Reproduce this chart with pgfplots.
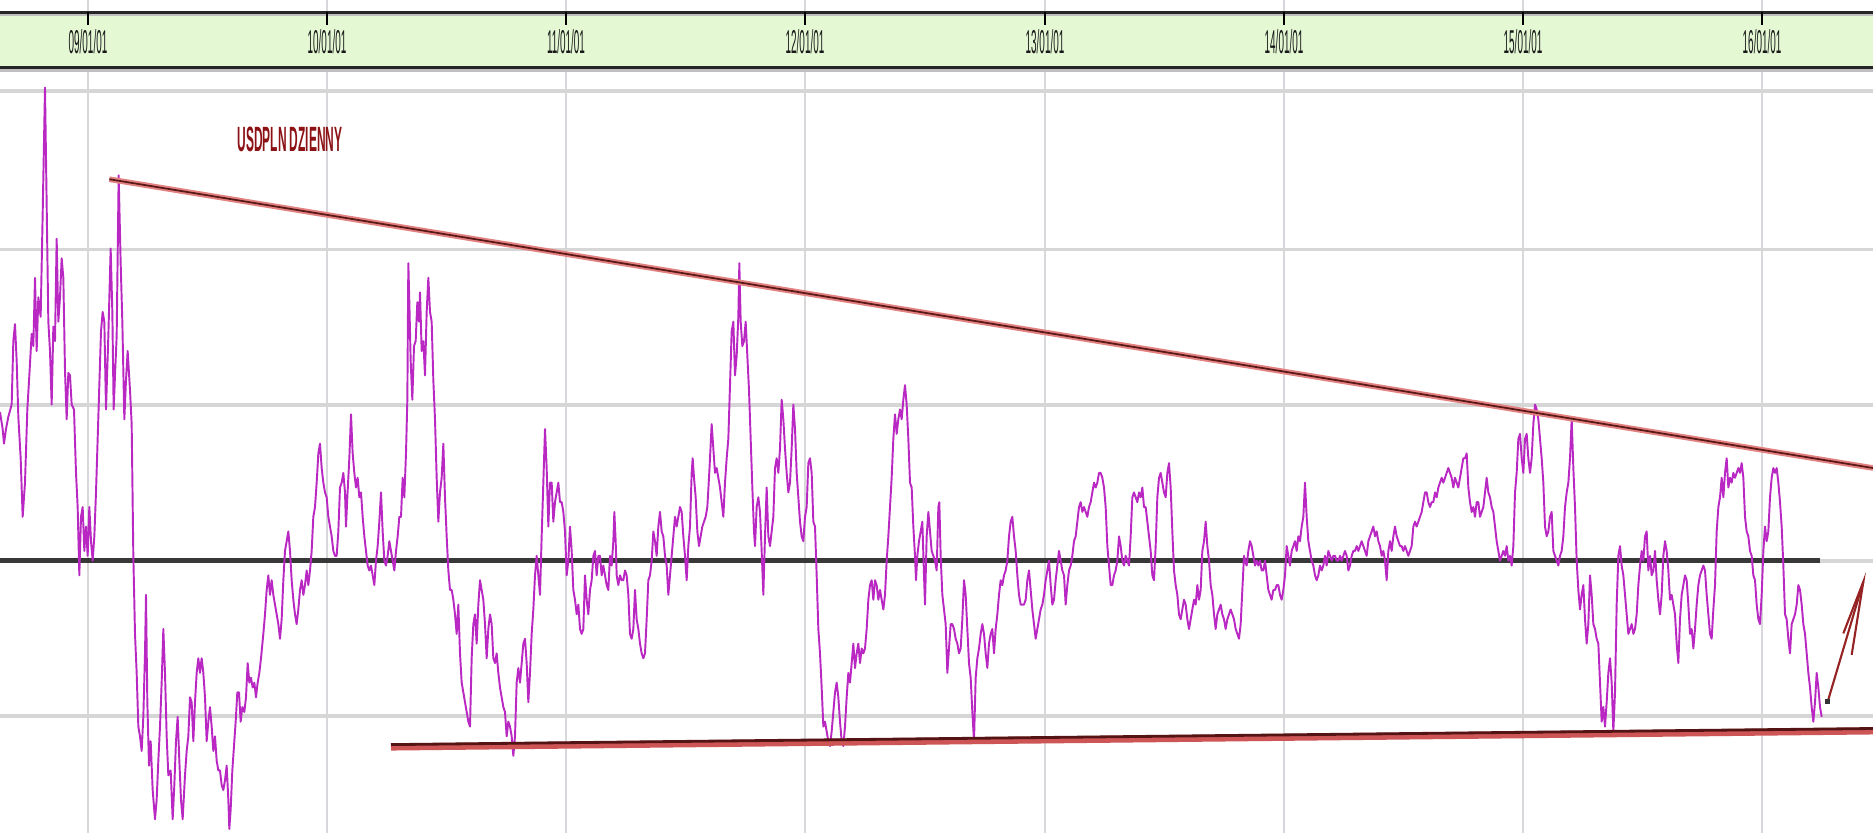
\documentclass[border=0pt]{standalone}
\usepackage{pgfplots}
\pgfplotsset{compat=1.18}
\usepackage{pgfplotstable}
\usepackage{fontspec}
\setmainfont{Liberation Sans}
\definecolor{band}{RGB}{228,248,212}
\definecolor{grd}{RGB}{214,214,214}
\definecolor{vgrd}{RGB}{215,215,220}
\definecolor{price}{RGB}{185,40,195}
\definecolor{ttl}{RGB}{140,18,22}
\definecolor{trendglow}{RGB}{228,130,130}
\definecolor{trenddark}{RGB}{90,25,25}
\definecolor{lowred}{RGB}{205,85,85}
\definecolor{lowdark}{RGB}{85,20,20}
\definecolor{arrowc}{RGB}{150,35,35}

% x: position in thirds of a pixel, y: depth from the top of the plot (scaled pixel units)
\pgfplotstableread{
x y
0 705
8 740
12 770
18 740
25 715
35 690
40 560
45 525
50 600
55 715
62 800
68 920
75 850
82 700
88 630
95 545
100 570
105 430
110 580
115 470
122 510
128 300
135 40
140 280
145 520
150 580
155 690
160 530
165 560
170 350
175 520
180 470
185 390
190 430
195 620
200 720
205 625
210 630
215 690
222 700
228 830
233 900
238 1040
243 920
248 900
253 990
258 940
263 1000
268 900
273 970
278 1010
283 960
288 870
293 760
298 650
303 540
308 500
313 520
318 700
325 550
332 370
337 500
341 700
345 630
350 550
356 220
362 400
367 520
373 720
378 640
383 580
390 660
395 730
400 1000
405 1160
410 1240
415 1350
420 1370
425 1400
430 1330
435 1200
438 1080
442 1300
447 1430
452 1380
458 1480
465 1540
470 1500
475 1420
480 1350
485 1260
490 1150
495 1240
500 1370
505 1450
512 1440
518 1540
523 1470
528 1380
533 1330
538 1420
543 1500
548 1540
555 1450
560 1400
565 1370
570 1290
575 1300
580 1380
585 1300
590 1240
595 1210
600 1240
605 1210
610 1240
615 1290
620 1380
625 1340
630 1310
635 1350
640 1400
645 1370
650 1420
655 1440
660 1440
665 1470
670 1480
675 1460
680 1430
685 1500
688 1560
692 1520
697 1440
702 1390
707 1340
712 1280
717 1280
722 1340
727 1310
733 1320
738 1290
743 1220
748 1260
753 1250
758 1270
763 1260
768 1290
773 1260
778 1240
783 1210
790 1160
795 1120
800 1070
805 1040
810 1080
815 1050
820 1080
825 1100
830 1120
835 1140
840 1170
845 1130
850 1050
855 990
860 970
865 950
870 990
875 1050
880 1090
885 1120
890 1140
895 1110
900 1070
905 1050
910 1080
915 1060
920 1030
925 1060
930 1030
935 990
940 920
945 900
950 850
955 790
960 770
965 820
970 850
975 870
980 880
985 920
990 940
995 960
1000 990
1005 1000
1010 1000
1015 950
1020 860
1025 850
1030 830
1035 870
1038 940
1042 880
1048 800
1053 710
1058 790
1063 830
1068 860
1073 840
1078 880
1083 870
1088 920
1093 960
1098 990
1103 1020
1108 1030
1113 1020
1118 1040
1123 1060
1128 1010
1133 980
1138 930
1143 870
1148 950
1153 1010
1158 1020
1163 1000
1168 970
1173 990
1178 1010
1183 1030
1188 990
1193 960
1198 920
1203 920
1208 840
1213 880
1218 790
1222 680
1225 400
1228 480
1232 600
1237 680
1242 570
1247 560
1252 480
1257 520
1260 460
1265 580
1270 560
1275 630
1280 500
1285 430
1290 500
1295 520
1300 640
1305 720
1310 840
1315 930
1320 870
1325 840
1330 770
1335 880
1340 960
1345 1030
1350 1070
1355 1070
1360 1090
1365 1120
1370 1160
1375 1100
1380 1200
1385 1260
1390 1280
1395 1300
1400 1320
1405 1340
1410 1350
1415 1210
1420 1140
1425 1120
1430 1180
1435 1100
1440 1050
1445 1070
1450 1090
1455 1140
1460 1210
1465 1150
1470 1120
1475 1140
1480 1210
1485 1220
1490 1200
1495 1240
1500 1270
1505 1290
1510 1310
1515 1320
1520 1370
1525 1340
1530 1350
1535 1370
1540 1410
1545 1370
1550 1260
1555 1230
1560 1260
1565 1220
1570 1180
1575 1170
1580 1220
1585 1300
1590 1240
1595 1160
1600 1110
1605 1040
1610 1000
1615 1040
1620 1080
1625 960
1630 850
1635 740
1640 820
1645 940
1650 850
1655 850
1660 930
1665 890
1670 870
1675 850
1680 890
1685 890
1690 910
1695 950
1700 1040
1705 1010
1710 940
1715 990
1720 1070
1725 1090
1730 1120
1735 1100
1740 1150
1745 1160
1750 1150
1755 1040
1760 1090
1765 1120
1770 1070
1775 1050
1780 1000
1785 990
1790 1040
1795 1000
1800 1000
1805 1040
1810 1020
1815 1040
1820 1060
1825 1070
1830 1000
1835 1020
1840 970
1843 910
1847 970
1850 1040
1855 1060
1860 1040
1865 1050
1870 1050
1875 1030
1880 1040
1885 1080
1890 1160
1895 1170
1900 1150
1905 1070
1910 1130
1915 1150
1920 1180
1925 1200
1930 1210
1935 1200
1940 1130
1945 1050
1950 1040
1955 1010
1960 950
1965 970
1970 1000
1975 940
1980 910
1985 950
1990 960
1995 1000
2000 1020
2005 1080
2010 1040
2015 1000
2020 960
2025 920
2030 940
2035 920
2040 900
2045 910
2050 960
2055 1000
2060 1050
2065 980
2070 940
2075 830
2078 800
2082 840
2087 880
2092 950
2097 980
2102 960
2107 940
2112 930
2117 920
2122 900
2127 840
2130 800
2135 730
2140 780
2145 830
2150 820
2155 840
2160 860
2165 890
2170 920
2175 850
2180 800
2185 760
2190 650
2195 540
2200 520
2205 630
2210 590
2215 510
2218 400
2222 520
2227 570
2232 560
2237 520
2242 590
2247 660
2252 760
2257 860
2262 950
2265 980
2270 900
2275 880
2280 910
2285 990
2290 1080
2295 960
2300 860
2305 960
2310 980
2315 950
2320 920
2325 820
2330 800
2335 830
2340 780
2345 680
2350 720
2355 780
2360 830
2365 870
2370 850
2375 780
2380 690
2385 740
2390 830
2395 880
2400 930
2405 960
2410 970
2415 920
2420 900
2425 810
2430 800
2435 830
2440 930
2445 940
2450 1040
2455 1150
2460 1200
2465 1270
2470 1350
2475 1340
2480 1360
2485 1380
2490 1390
2495 1360
2500 1320
2505 1280
2510 1260
2515 1290
2520 1340
2525 1380
2530 1390
2535 1350
2540 1290
2545 1240
2550 1260
2555 1220
2560 1180
2565 1230
2570 1200
2575 1180
2580 1220
2585 1190
2590 1200
2595 1190
2600 1150
2605 1090
2610 1060
2615 1050
2620 1090
2625 1050
2630 1060
2635 1090
2640 1070
2645 1090
2650 1110
2655 1080
2660 1010
2665 960
2670 900
2675 840
2680 760
2685 710
2690 750
2695 720
2700 700
2705 720
2710 680
2715 650
2720 690
2725 760
2730 850
2735 860
2740 940
2745 1000
2748 1050
2752 1000
2757 970
2762 950
2767 930
2772 1040
2775 1100
2780 960
2785 910
2790 950
2795 990
2800 1000
2805 1010
2810 1030
2815 900
2818 890
2822 1000
2827 1080
2832 1110
2837 1140
2842 1240
2847 1190
2852 1140
2857 1140
2862 1150
2867 1170
2872 1180
2877 1200
2882 1190
2887 1130
2892 1050
2897 1080
2902 1150
2907 1220
2912 1250
2917 1320
2922 1380
2927 1250
2932 1210
2937 1190
2942 1160
2947 1140
2952 1160
2957 1200
2962 1230
2967 1180
2972 1160
2977 1150
2982 1200
2987 1150
2992 1120
2997 1080
3002 1050
3007 1060
3012 1040
3017 1030
3022 1010
3027 960
3032 930
3037 920
3042 960
3047 990
3052 1040
3057 1080
3062 1100
3067 1100
3072 1100
3077 1090
3082 1050
3087 1030
3092 1070
3097 1110
3102 1140
3107 1170
3112 1150
3117 1130
3122 1110
3127 1100
3132 1080
3137 1050
3142 1030
3147 1010
3152 1060
3157 1100
3162 1090
3167 1050
3172 1020
3177 990
3182 1010
3187 1030
3192 1040
3197 1100
3202 1060
3207 1030
3212 1020
3217 1000
3222 970
3227 960
3232 930
3237 900
3242 890
3247 910
3252 900
3257 910
3262 920
3267 900
3272 890
3277 870
3282 850
3287 860
3292 850
3297 830
3302 830
3307 840
3312 860
3317 900
3322 980
3327 1020
3332 1060
3337 1060
3342 1040
3347 1030
3352 1010
3357 960
3362 980
3367 1010
3372 1020
3377 1000
3382 1010
3387 1020
3392 960
3397 880
3402 870
3407 880
3412 890
3417 870
3422 880
3427 860
3432 900
3437 900
3442 930
3447 960
3452 990
3457 1040
3462 1050
3467 980
3472 880
3477 840
3482 830
3487 850
3492 870
3497 880
3502 830
3507 810
3512 860
3517 950
3522 1030
3527 1060
3532 1080
3537 1120
3542 1130
3547 1110
3552 1090
3557 1100
3562 1130
3567 1150
3572 1130
3577 1110
3582 1090
3587 1100
3592 1060
3597 1090
3602 1070
3607 990
3612 970
3617 930
3622 980
3627 1010
3632 1060
3637 1080
3642 1120
3647 1150
3652 1120
3657 1110
3662 1100
3667 1120
3672 1130
3677 1150
3682 1130
3687 1120
3692 1110
3697 1120
3702 1130
3707 1150
3712 1160
3717 1170
3722 1140
3727 1070
3732 1000
3735 1010
3740 1020
3745 990
3750 970
3755 980
3760 1000
3765 1020
3770 1010
3775 1020
3780 1010
3785 1030
3790 1030
3795 1010
3800 1040
3805 1070
3810 1080
3815 1090
3820 1070
3825 1070
3830 1060
3835 1060
3840 1080
3845 1090
3850 1070
3855 1040
3860 980
3865 1000
3870 1020
3875 990
3880 980
3885 970
3890 990
3895 960
3900 970
3905 940
3910 920
3915 850
3920 920
3925 970
3930 990
3935 1010
3940 1020
3945 1040
3950 1050
3955 1040
3960 1020
3965 1030
3970 1020
3975 1000
3980 1020
3985 990
3990 1000
3995 1010
4000 1000
4005 1000
4010 1010
4015 1010
4020 1000
4025 1010
4030 1000
4035 990
4040 1000
4045 1030
4050 1020
4055 1000
4060 990
4065 990
4070 980
4075 990
4080 980
4085 970
4090 980
4095 990
4100 1000
4105 970
4110 960
4115 950
4120 940
4125 960
4130 950
4135 970
4140 980
4145 1000
4150 990
4155 1010
4160 1050
4165 990
4170 970
4175 990
4180 960
4185 940
4190 960
4195 970
4200 980
4205 980
4210 990
4215 980
4220 990
4225 1000
4230 990
4235 980
4240 940
4245 930
4250 940
4255 930
4260 920
4265 910
4270 890
4275 870
4280 870
4285 890
4290 900
4295 890
4300 890
4305 870
4310 880
4315 860
4320 850
4325 840
4330 850
4335 840
4340 830
4345 820
4350 830
4355 840
4360 860
4365 840
4370 850
4375 860
4380 840
4385 820
4390 800
4395 800
4400 790
4405 860
4410 890
4415 910
4420 900
4425 920
4430 890
4435 890
4440 920
4445 910
4450 900
4455 870
4460 840
4465 870
4470 880
4475 900
4480 910
4485 940
4490 970
4495 990
4500 1010
4505 1000
4510 990
4515 1000
4520 980
4525 1010
4530 1000
4535 1020
4540 980
4545 870
4550 830
4555 760
4560 750
4565 800
4570 830
4575 760
4580 750
4585 800
4590 830
4595 800
4600 730
4605 690
4610 700
4615 720
4620 760
4625 800
4630 850
4635 940
4640 960
4645 950
4650 920
4655 910
4660 990
4665 1000
4670 1010
4675 1020
4680 1000
4685 990
4690 960
4695 900
4700 870
4705 850
4710 800
4715 720
4720 820
4725 900
4730 1010
4735 1070
4740 1110
4745 1080
4750 1060
4755 1130
4760 1180
4765 1140
4770 1040
4775 1080
4780 1140
4785 1150
4790 1170
4795 1180
4800 1260
4805 1340
4810 1310
4815 1350
4820 1300
4825 1240
4830 1210
4835 1260
4840 1360
4845 1280
4850 1100
4855 1000
4860 980
4865 1020
4870 1040
4875 1080
4880 1120
4885 1160
4890 1150
4895 1140
4900 1160
4905 1150
4910 1120
4915 1060
4920 1020
4925 990
4930 1010
4935 960
4940 950
4945 1030
4950 1000
4955 1040
4960 1030
4965 990
4970 1050
4975 1090
4980 1120
4985 1080
4990 1000
4995 970
5000 990
5005 1030
5010 1090
5015 1080
5020 1100
5025 1120
5030 1180
5035 1220
5040 1130
5045 1080
5050 1060
5055 1040
5060 1050
5065 1100
5070 1160
5075 1150
5080 1190
5085 1150
5090 1100
5095 1060
5100 1040
5105 1030
5110 1020
5115 1030
5120 1080
5125 1120
5130 1160
5135 1170
5140 1110
5145 1060
5150 950
5155 900
5160 880
5165 840
5170 880
5175 830
5180 800
5185 860
5190 840
5195 850
5200 830
5205 840
5210 830
5215 820
5220 830
5225 810
5230 840
5235 920
5240 950
5245 960
5250 990
5255 1000
5260 1040
5265 1050
5270 1100
5275 1130
5280 1140
5285 1080
5290 990
5295 940
5300 970
5305 950
5310 880
5315 840
5320 820
5325 830
5330 820
5335 850
5340 890
5345 940
5350 1020
5355 1120
5360 1130
5365 1170
5370 1200
5375 1140
5380 1130
5385 1120
5390 1100
5395 1060
5400 1070
5405 1100
5410 1140
5415 1160
5420 1200
5425 1240
5430 1270
5435 1310
5440 1340
5445 1300
5450 1240
5455 1270
5460 1310
5465 1330
}\pricedata

\begin{document}
\begin{tikzpicture}
\begin{axis}[
  scale only axis,
  width=18.73cm, height=8.33cm,
  xmin=0, xmax=5619,
  ymin=-139.4, ymax=1568.25,
  y dir=reverse,
  hide axis,
  clip=true,
]
% background
\addplot[draw=none, fill=white] coordinates {(0,-139.4) (5619,-139.4) (5619,1568.25) (0,1568.25)} -- cycle;
% vertical grid lines (year starts)
\addplot[vgrd, line width=0.3pt] coordinates {(264,-139.4) (264,1568.25)};
\addplot[vgrd, line width=0.3pt] coordinates {(981,-139.4) (981,1568.25)};
\addplot[vgrd, line width=0.3pt] coordinates {(1698,-139.4) (1698,1568.25)};
\addplot[vgrd, line width=0.3pt] coordinates {(2415,-139.4) (2415,1568.25)};
\addplot[vgrd, line width=0.3pt] coordinates {(3135,-139.4) (3135,1568.25)};
\addplot[vgrd, line width=0.3pt] coordinates {(3852,-139.4) (3852,1568.25)};
\addplot[vgrd, line width=0.3pt] coordinates {(4569,-139.4) (4569,1568.25)};
\addplot[vgrd, line width=0.3pt] coordinates {(5286,-139.4) (5286,1568.25)};
% horizontal grid lines
\addplot[grd, line width=1.1pt] coordinates {(0,48) (5619,48)};
\addplot[grd, line width=1.1pt] coordinates {(0,372) (5619,372)};
\addplot[grd, line width=1.1pt] coordinates {(0,690) (5619,690)};
\addplot[grd, line width=1.1pt] coordinates {(0,1010) (5619,1010)};
\addplot[grd, line width=1.1pt] coordinates {(0,1328) (5619,1328)};
% date band
\addplot[draw=none, fill=band] coordinates {(0,-113.8) (5619,-113.8) (5619,-1) (0,-1)} -- cycle;
\addplot[black!25, line width=1.2pt] coordinates {(0,-110) (5619,-110)};
\addplot[black!85, line width=0.8pt] coordinates {(0,-114) (5619,-114)};
\addplot[black!25, line width=1.2pt] coordinates {(0,3) (5619,3)};
\addplot[black!85, line width=0.8pt] coordinates {(0,-1) (5619,-1)};
% ticks
\addplot[black, line width=0.4pt] coordinates {(264,-114) (264,-88)};
\addplot[black, line width=0.4pt] coordinates {(981,-114) (981,-88)};
\addplot[black, line width=0.4pt] coordinates {(1698,-114) (1698,-88)};
\addplot[black, line width=0.4pt] coordinates {(2415,-114) (2415,-88)};
\addplot[black, line width=0.4pt] coordinates {(3135,-114) (3135,-88)};
\addplot[black, line width=0.4pt] coordinates {(3852,-114) (3852,-88)};
\addplot[black, line width=0.4pt] coordinates {(4569,-114) (4569,-88)};
\addplot[black, line width=0.4pt] coordinates {(5286,-114) (5286,-88)};
% tick labels
\tikzset{datelbl/.style={font=\fontsize{9.4}{10}\selectfont, text=black!90, xscale=0.30, inner sep=0pt}}
\node[datelbl] at (axis cs:264,-53) {09/01/01};
\node[datelbl] at (axis cs:981,-53) {10/01/01};
\node[datelbl] at (axis cs:1698,-53) {11/01/01};
\node[datelbl] at (axis cs:2415,-53) {12/01/01};
\node[datelbl] at (axis cs:3135,-53) {13/01/01};
\node[datelbl] at (axis cs:3852,-53) {14/01/01};
\node[datelbl] at (axis cs:4569,-53) {15/01/01};
\node[datelbl] at (axis cs:5286,-53) {16/01/01};
% dark horizontal level
\addplot[black!78, line width=1.4pt] coordinates {(0,1010) (5460,1010)};
% price series
\addplot[price, line width=0.55pt, line join=round] table[x=x, y=y] {\pricedata};
% upper trend line
\addplot[trendglow, line width=1.6pt] coordinates {(328,228) (5619,820)};
\addplot[trenddark, line width=0.5pt] coordinates {(328,228) (5619,820)};
% lower trend line
\addplot[lowred, line width=2.0pt] coordinates {(1173,1392) (5619,1359)};
\addplot[lowdark, line width=0.8pt] coordinates {(1173,1387) (5619,1354)};
% arrow
\addplot[arrowc, line width=0.6pt] coordinates {(5483,1299) (5590,1053)};
\addplot[arrowc, line width=0.6pt] coordinates {(5530,1159) (5590,1053) (5555,1203)};
\addplot[only marks, mark=square*, mark size=0.5pt, black!80] coordinates {(5483,1299)};
% title
\node[font=\fontsize{10}{10}\bfseries\selectfont, text=ttl, xscale=0.34, inner sep=0pt] at (axis cs:870,147) {USDPLN DZIENNY};
\end{axis}
\end{tikzpicture}
\end{document}
